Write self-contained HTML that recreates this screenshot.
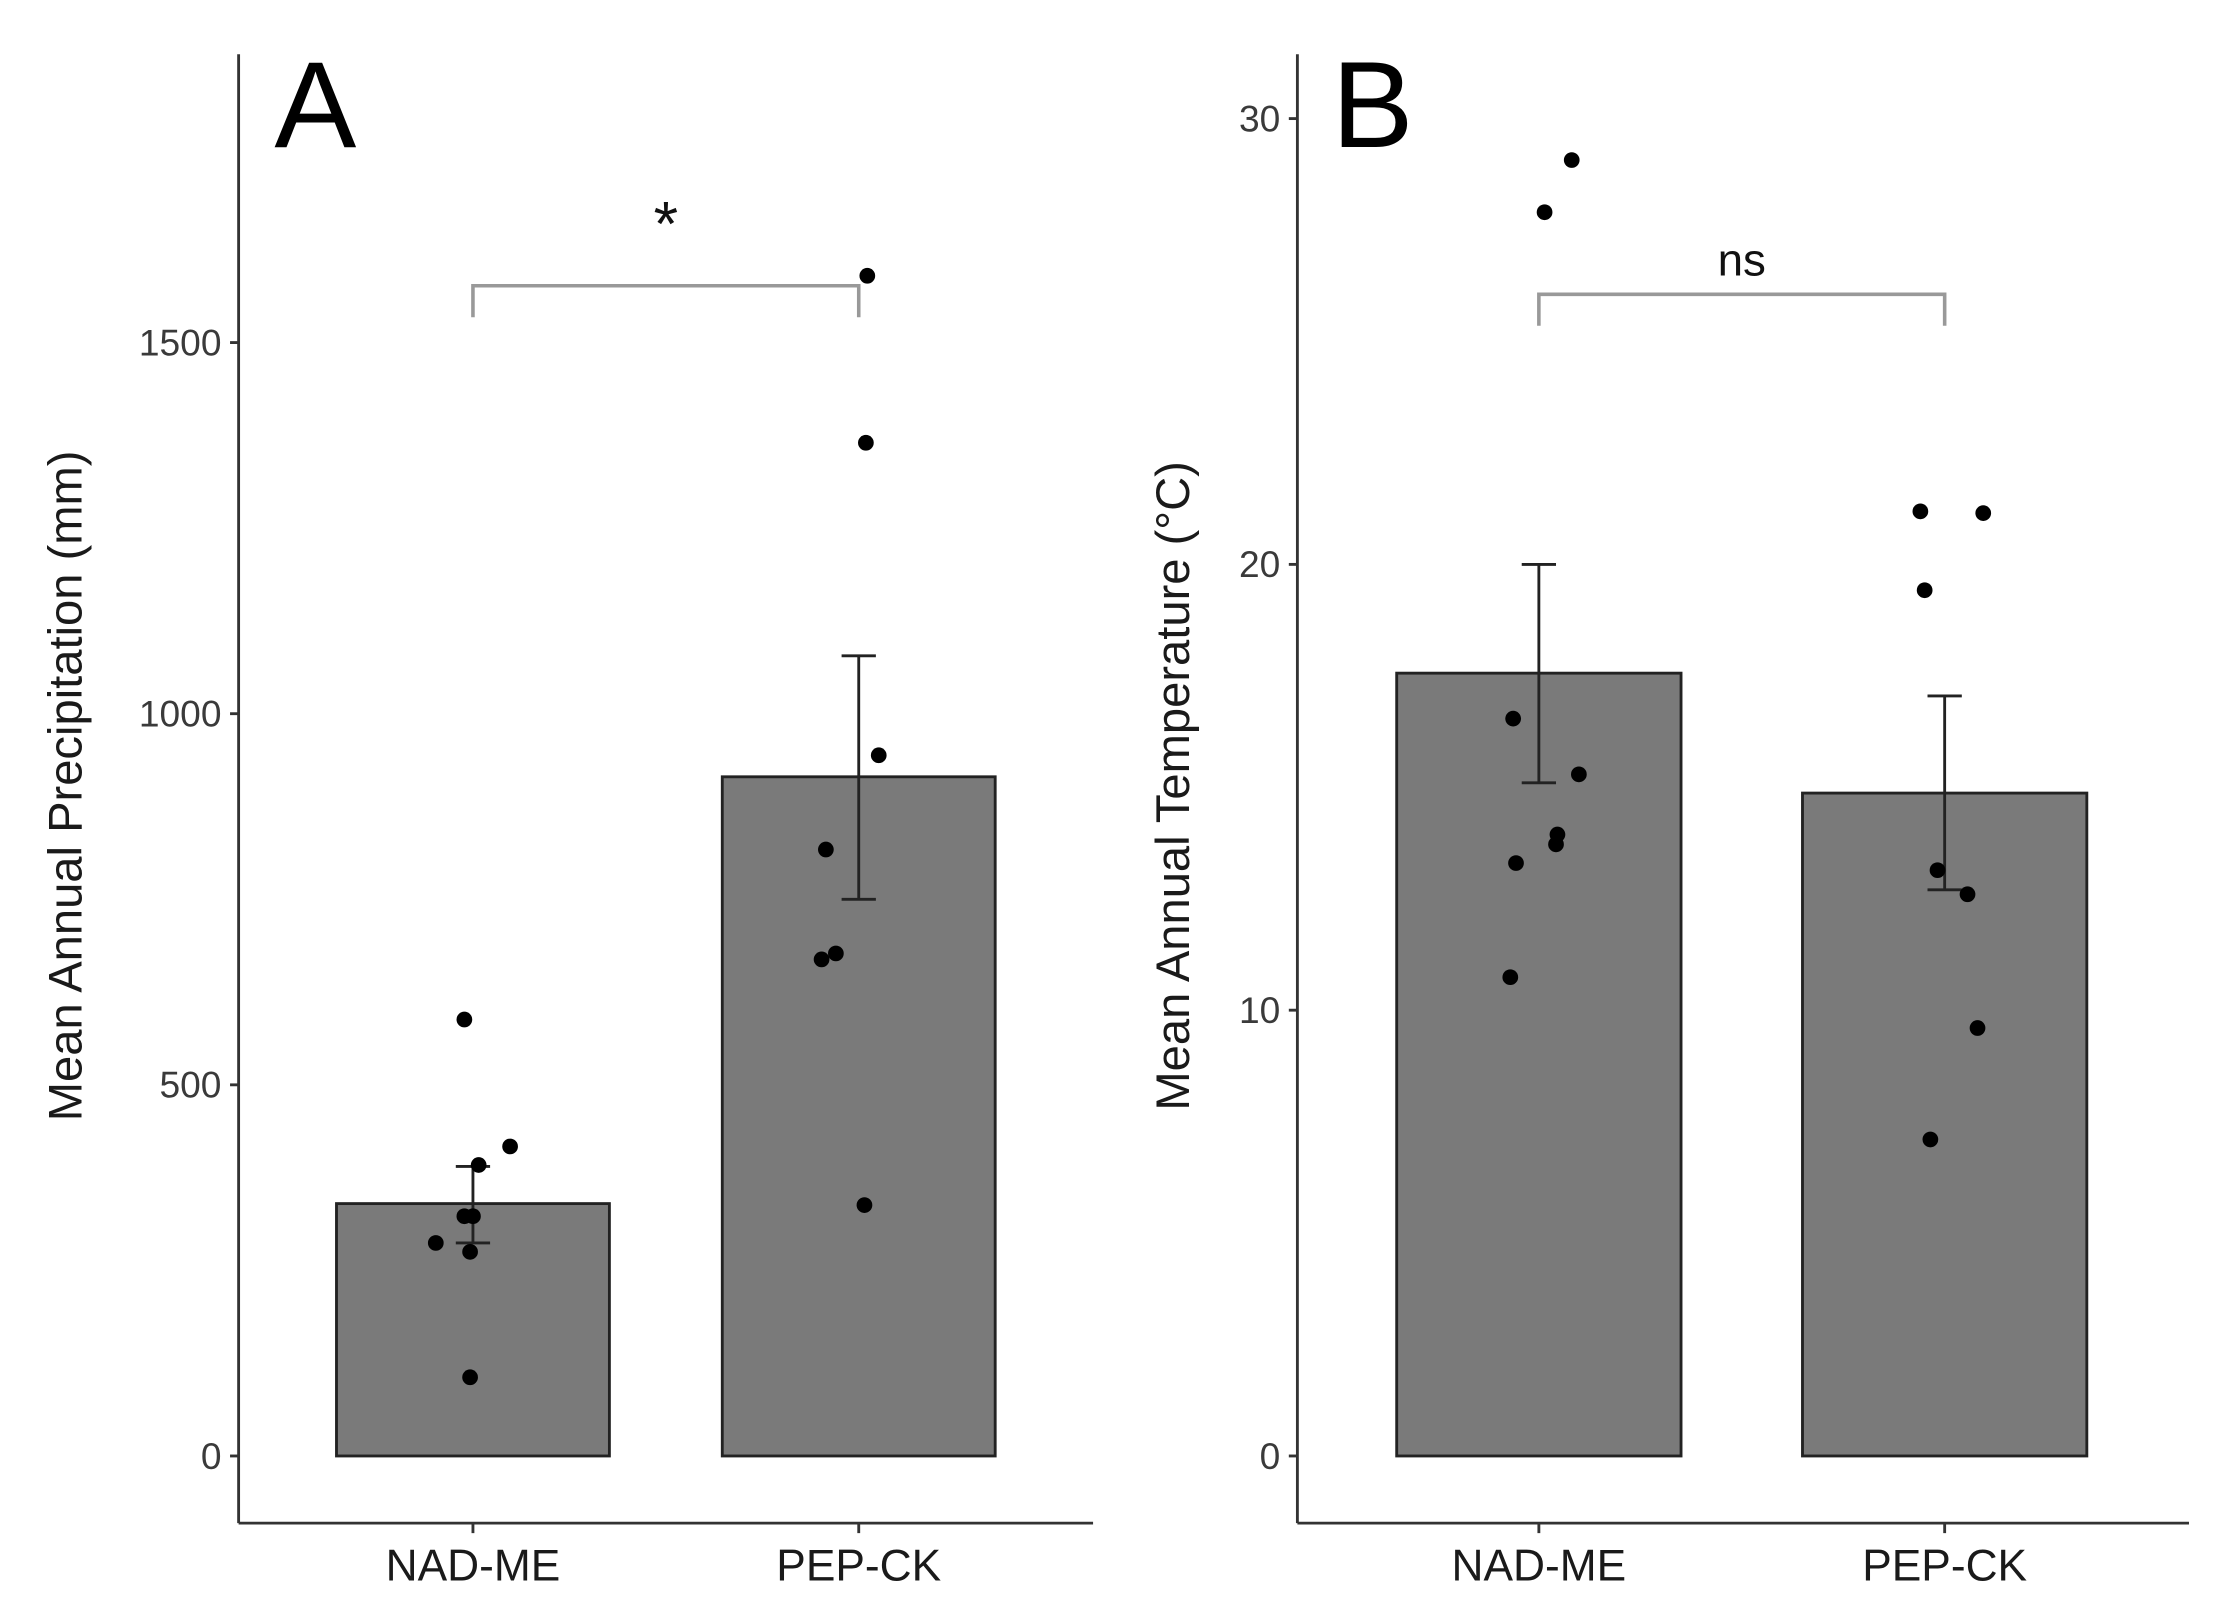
<!DOCTYPE html>
<html><head><meta charset="utf-8"><style>
html,body{margin:0;padding:0;background:#fff;}
svg{display:block;font-family:"Liberation Sans",Arial,sans-serif;}
</style></head><body>
<svg id="chart" width="2229" height="1615" viewBox="0 0 1560 1130.3" preserveAspectRatio="none" xmlns="http://www.w3.org/2000/svg"></svg>
<script>
const categories = ["NAD-ME","PEP-CK"];
const precipMeans = [340, 915];
const precipErrLo = [287, 750];
const precipErrHi = [390, 1078];
const precipPointsNAD = [588, 392, 417, 323, 323, 287, 275, 106];
const precipPointsPEP = [1590, 1365, 944, 817, 677, 669, 338];
const precipTicks = [0, 500, 1000, 1500];
const tempMeans = [17.56, 14.87];
const tempErrLo = [15.1, 12.7];
const tempErrHi = [20, 17.05];
const tempPointsNAD = [29.07, 27.9, 16.54, 15.29, 13.94, 13.72, 13.3, 10.74];
const tempPointsPEP = [21.19, 21.15, 19.42, 13.14, 12.6, 9.6, 7.1];
const tempTicks = [0, 10, 20, 30];
const jitterNAD_A = [-6, 4, 26, -6, 0, -26, -2, -2];
const jitterPEP_A = [6, 5, 14, -23, -16, -26, 4];
const jitterNAD_B = [23, 4, -18, 28, 13, 12, -16, -20];
const jitterPEP_B = [-17, 27, -14, -5, 16, 23, -10];

const svg = document.getElementById('chart');
const NS = "http://www.w3.org/2000/svg";
function mk(tag, attrs, text){
  const e = document.createElementNS(NS, tag);
  for (const k in attrs) e.setAttribute(k, attrs[k]);
  if (text !== undefined) e.textContent = text;
  svg.appendChild(e);
  return e;
}

function panel(p){
  const y = v => p.y0 - v * p.k;
  let e;
  e = mk('line',{x1:p.ax,y1:38,x2:p.ax,y2:1066,stroke:'#333','stroke-width':2});
   
  e = mk('line',{x1:p.ax,y1:1066,x2:p.axEnd,y2:1066,stroke:'#333','stroke-width':2});
   
  p.ticks.forEach(t=>{
    e = mk('line',{x1:p.ax-6,y1:y(t),x2:p.ax,y2:y(t),stroke:'#333','stroke-width':2});
     
    e = mk('text',{x:p.ax-12,y:y(t)+9,'text-anchor':'end','font-size':26,fill:'#3a3a3a'},String(t));
     
  });
  categories.forEach((c,i)=>{
    const cx = p.cx[i];
    e = mk('rect',{x:cx-p.bw/2,y:y(p.means[i]),width:p.bw,height:y(0)-y(p.means[i]),fill:'#7a7a7a',stroke:'#222','stroke-width':2});
     
    e = mk('path',{d:`M${cx-12},${y(p.hi[i])}H${cx+12}M${cx},${y(p.hi[i])}V${y(p.lo[i])}M${cx-12},${y(p.lo[i])}H${cx+12}`,stroke:'#222','stroke-width':2,fill:'none'});
     
    e = mk('line',{x1:cx,y1:1066,x2:cx,y2:1073,stroke:'#333','stroke-width':2});
     
    e = mk('text',{x:cx,y:1106,'text-anchor':'middle','font-size':31,fill:'#1a1a1a'},c);
     
    const pts = i===0 ? p.ptsN : p.ptsP;
    const jit = i===0 ? p.jN : p.jP;
    pts.forEach((v,j)=>{
      e = mk('circle',{cx:cx+jit[j],cy:y(v),r:5.5,fill:'#000'});
       
    });
  });
  e = mk('path',{d:`M${p.cx[0]},${p.by+22}V${p.by}H${p.cx[1]}V${p.by+22}`,stroke:'#999','stroke-width':2.5,fill:'none'});
   
  e = mk('text',{x:(p.cx[0]+p.cx[1])/2,y:p.sigY,'text-anchor':'middle','font-size':p.sigSize,fill:'#111'},p.sig);
   
  e = mk('text',{x:p.lx,y:103,'font-size':86,fill:'#000'},p.letter);
   
  e = mk('text',{x:0,y:0,'text-anchor':'middle','font-size':33,fill:'#1a1a1a',transform:`translate(${p.tx},550) rotate(-90)`},p.title);
   
}

panel({id:'panel-a',ax:167,axEnd:765,y0:1019,k:0.5195,ticks:precipTicks,cx:[331,601],bw:191,
  means:precipMeans,lo:precipErrLo,hi:precipErrHi,ptsN:precipPointsNAD,ptsP:precipPointsPEP,jN:jitterNAD_A,jP:jitterPEP_A,
  by:200,sig:'*',sigY:172,sigSize:44,letter:'A',lx:192,tx:57,title:'Mean Annual Precipitation (mm)'});
panel({id:'panel-b',ax:908,axEnd:1532,y0:1019,k:31.2,ticks:tempTicks,cx:[1077,1361],bw:199,
  means:tempMeans,lo:tempErrLo,hi:tempErrHi,ptsN:tempPointsNAD,ptsP:tempPointsPEP,jN:jitterNAD_B,jP:jitterPEP_B,
  by:206,sig:'ns',sigY:193,sigSize:32,letter:'B',lx:932,tx:832,title:'Mean Annual Temperature  (°C)'});
</script>
</body></html>
